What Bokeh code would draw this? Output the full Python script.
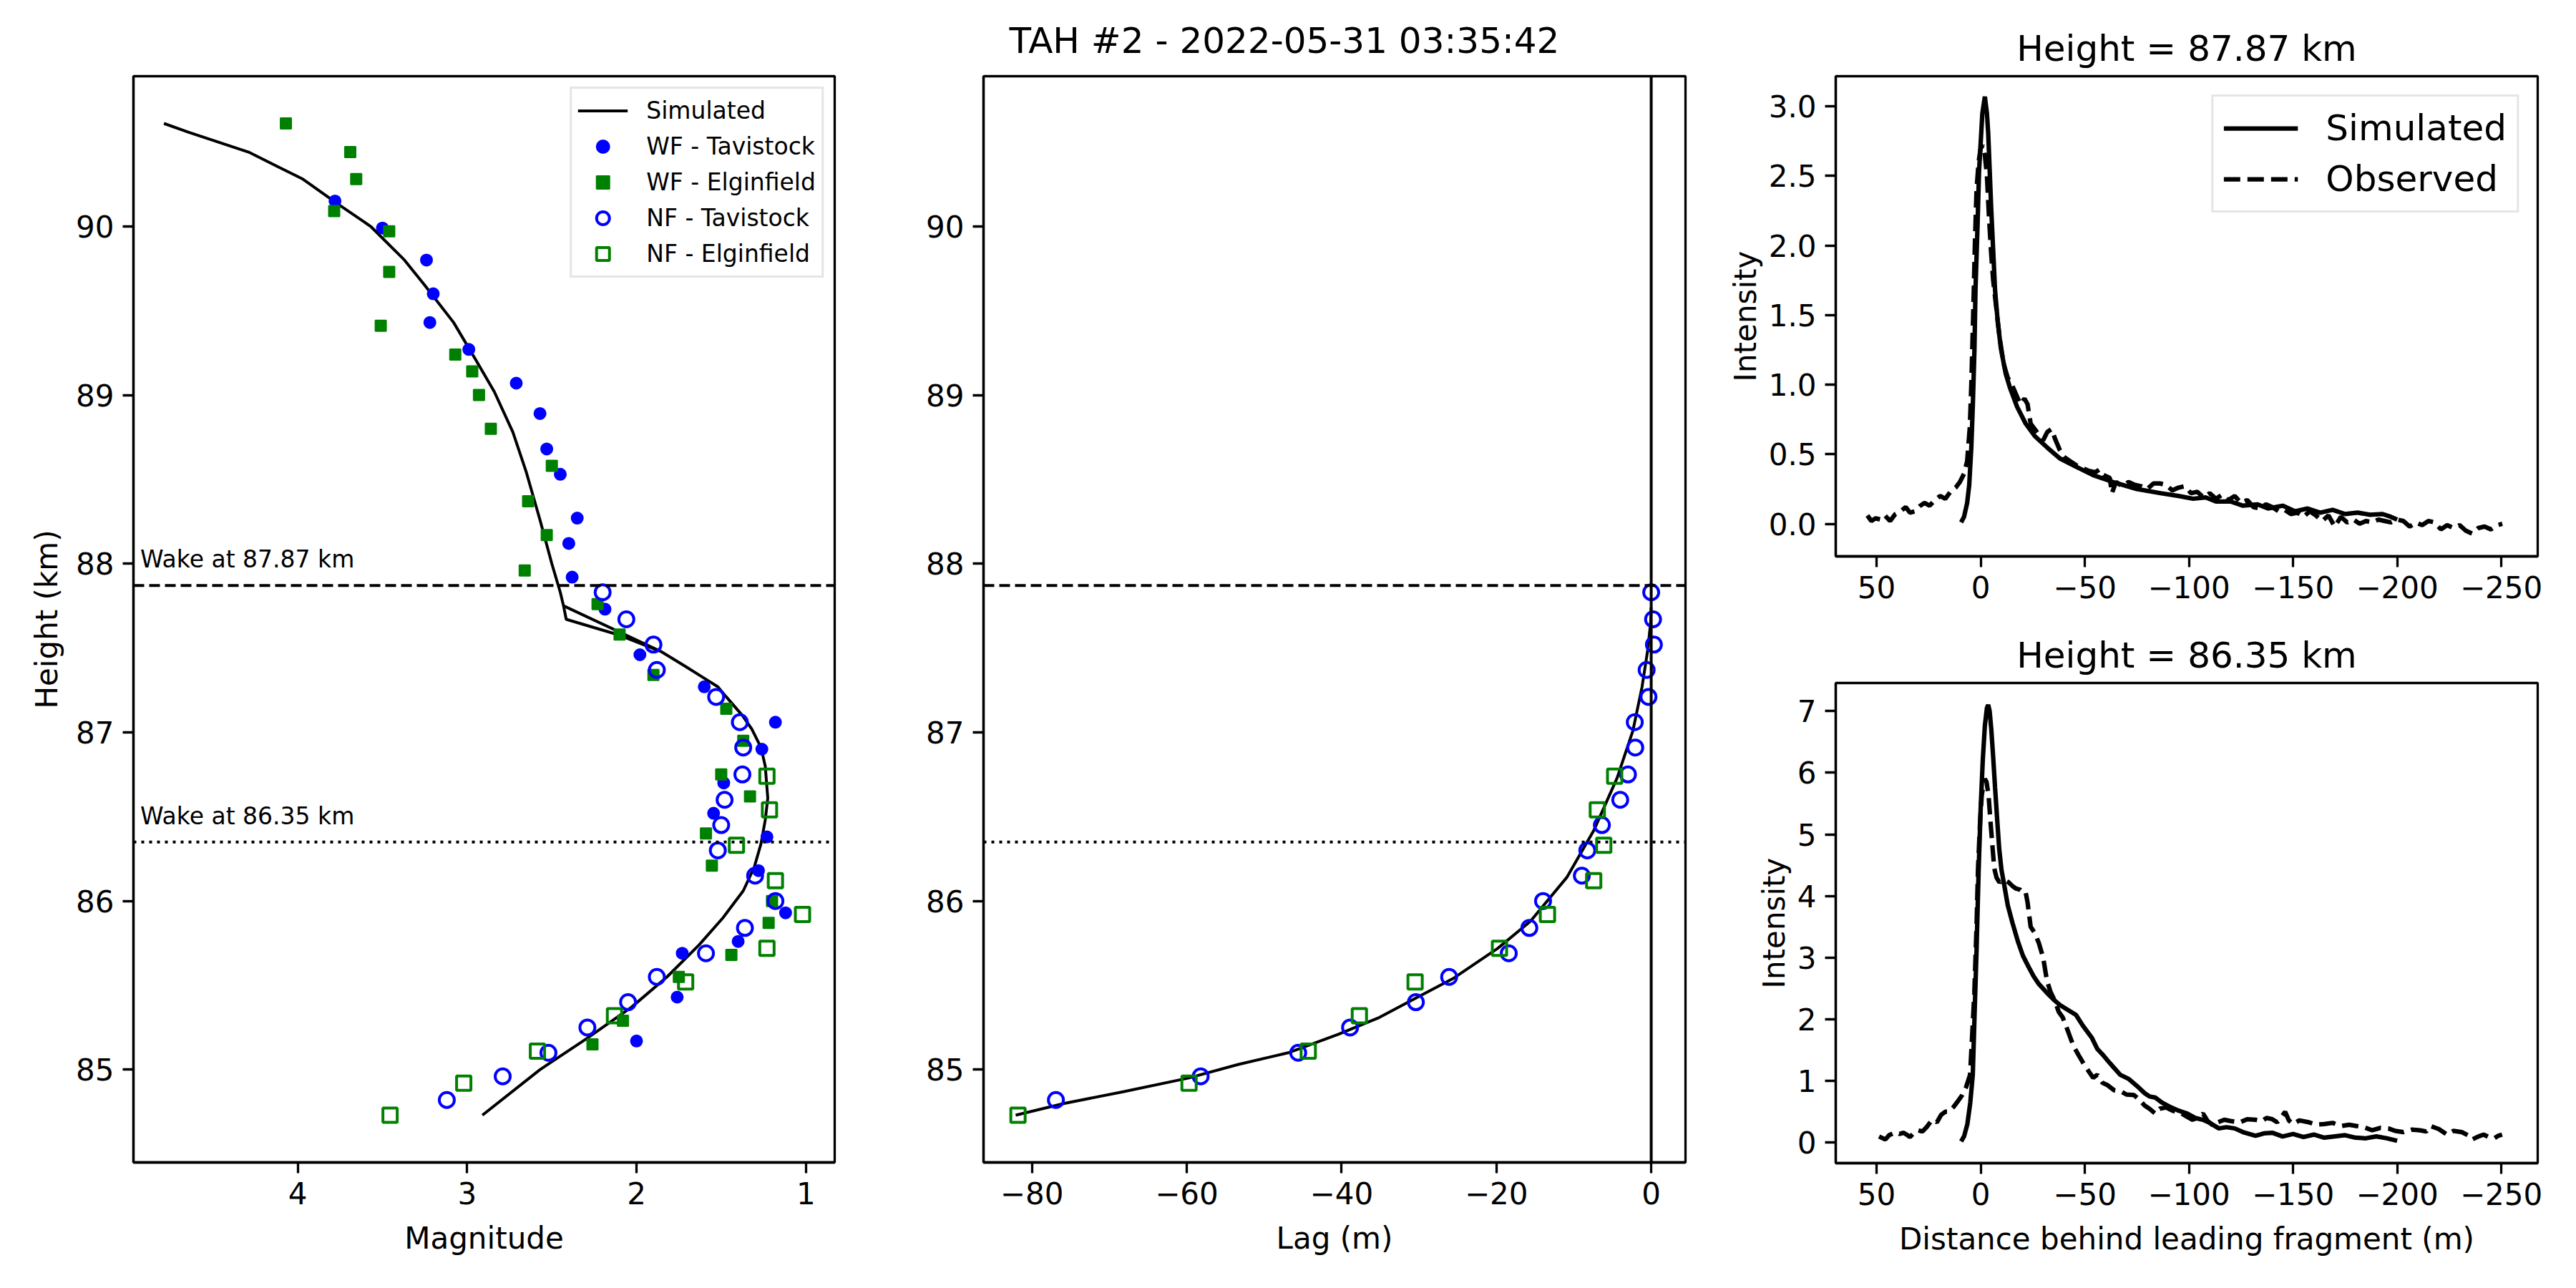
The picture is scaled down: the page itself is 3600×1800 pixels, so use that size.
from bokeh.plotting import figure
from bokeh.models import Range1d, Span, Label, Legend, LegendItem, FixedTicker
from bokeh.layouts import row, column
from bokeh.embed import file_html
from bokeh.resources import INLINE

FONT = "DejaVu Sans"

# ---------------- Left panel: Magnitude vs Height ----------------
sim_mag = [4.79, 4.65, 4.29, 4.13, 3.97, 3.76, 3.57, 3.37, 3.25, 3.08, 2.95, 2.84, 2.73, 2.65,
           2.57, 2.50, 2.45, 2.431, 2.415, 2.113, 1.857, 2.431, 1.857, 1.71, 1.615, 1.52, 1.47,
           1.375, 1.32, 1.265, 1.24, 1.225, 1.24, 1.265, 1.305, 1.37, 1.49, 1.63, 1.82, 2.03,
           2.30, 2.57, 2.91]
sim_h = [90.61, 90.56, 90.44, 90.36, 90.28, 90.13, 90.00, 89.80, 89.65, 89.43, 89.21, 89.02,
         88.78, 88.54, 88.26, 88.00, 87.83, 87.75, 87.67, 87.58, 87.48, 87.75, 87.48, 87.39,
         87.33, 87.27, 87.21, 87.10, 87.02, 86.91, 86.80, 86.61, 86.48, 86.34, 86.20, 86.06,
         85.90, 85.74, 85.55, 85.37, 85.18, 85.00, 84.73]

wf_tav_mag = [3.78, 3.50, 3.24, 3.20, 3.22, 2.99, 2.71, 2.57, 2.53, 2.45, 2.35, 2.40, 2.38,
              2.186, 1.98, 1.60, 1.18, 1.26, 1.485, 1.545, 1.23, 1.28, 1.12, 1.40, 1.73, 1.76, 2.00]
wf_tav_h = [90.15, 89.99, 89.80, 89.60, 89.43, 89.27, 89.07, 88.89, 88.68, 88.53, 88.27, 88.12,
            87.92, 87.73, 87.46, 87.27, 87.06, 86.90, 86.70, 86.52, 86.38, 86.18, 85.93, 85.76,
            85.69, 85.43, 85.17]

wf_elg_mag = [4.07, 3.69, 3.655, 3.785, 3.46, 3.46, 3.51, 3.07, 2.97, 2.93, 2.86, 2.50, 2.64,
              2.53, 2.66, 2.23, 2.10, 1.90, 1.47, 1.37, 1.50, 1.33, 1.59, 1.555, 1.20, 1.22,
              1.44, 1.75, 2.08, 2.26]
wf_elg_h = [90.61, 90.44, 90.28, 90.09, 89.97, 89.73, 89.41, 89.24, 89.14, 89.00, 88.80, 88.58,
            88.37, 88.17, 87.96, 87.76, 87.58, 87.34, 87.14, 86.95, 86.75, 86.62, 86.40, 86.21,
            86.00, 85.87, 85.68, 85.55, 85.29, 85.15]

nf_tav_h = [87.83, 87.67, 87.52, 87.37, 87.21, 87.06, 86.91, 86.75, 86.60, 86.45, 86.30, 86.15,
            86.00, 85.84, 85.69, 85.55, 85.40, 85.25, 85.10, 84.96, 84.82]
nf_tav_mag = [2.20, 2.06, 1.90, 1.88, 1.53, 1.39, 1.37, 1.375, 1.48, 1.50, 1.52, 1.30, 1.18,
              1.36, 1.59, 1.88, 2.05, 2.29, 2.52, 2.79, 3.12]
nf_tav_lag = [0.0, 0.24, 0.35, -0.59, -0.35, -2.12, -2.06, -3.0, -4.0, -6.37, -8.25, -8.96,
              -13.97, -15.74, -18.4, -26.1, -30.4, -38.9, -45.6, -58.2, -76.9]

nf_elg_h = [86.74, 86.54, 86.33, 86.12, 85.92, 85.72, 85.52, 85.32, 85.11, 84.92, 84.73]
nf_elg_mag = [1.23, 1.215, 1.41, 1.18, 1.02, 1.23, 1.71, 2.13, 2.585, 3.02, 3.455]
nf_elg_lag = [-4.72, -6.96, -6.13, -7.43, -13.4, -19.6, -30.5, -37.7, -44.3, -59.7, -81.8]

# ---------------- Middle panel: simulated lag ----------------
sim_lag = [-82.1, -75.8, -68.1, -59.8, -53.4, -46.9, -40.4, -35.1, -31.0, -25.6, -19.8, -15.6,
           -10.9, -7.4, -4.4, -2.36, -1.18, -0.41, -0.06, -0.02]
sim_lag_h = [84.73, 84.80, 84.87, 84.95, 85.03, 85.10, 85.21, 85.31, 85.41, 85.54, 85.72, 85.88,
             86.14, 86.42, 86.73, 87.01, 87.27, 87.50, 87.66, 87.74]

wake_heights = [87.87, 86.35]
wake_labels = ["Wake at 87.87 km", "Wake at 86.35 km"]

# ---------------- Right panels: wake profiles ----------------
top_sim_d = [9.4, 8.0, 6.5, 5.5, 4.5, 3.8, 3.0, 2.5, 1.5, 0.8, -0.8, -2.0, -3.0, -3.6, -5.1, -6.9,
             -8.2, -9.7, -12, -14, -17.5, -21.6, -26, -31.8, -38, -45.8, -54, -63.6, -75, -86.4,
             -95, -102, -108, -113, -120, -126, -133, -138, -145, -151, -157, -163, -169, -175,
             -181, -187, -193, -197, -200]
top_sim_i = [0.01, 0.05, 0.15, 0.28, 0.55, 0.84, 1.25, 1.68, 2.15, 2.53, 2.95, 3.07, 2.95, 2.81,
             2.25, 1.68, 1.45, 1.26, 1.08, 0.98, 0.84, 0.72, 0.63, 0.55, 0.47, 0.41, 0.35, 0.30,
             0.25, 0.22, 0.20, 0.18, 0.19, 0.16, 0.16, 0.13, 0.14, 0.11, 0.13, 0.09, 0.11, 0.08,
             0.10, 0.07, 0.08, 0.065, 0.07, 0.05, 0.03]

top_obs_d = [54.4, 52.5, 50.5, 48, 46, 43.5, 41, 38.5, 36, 34, 31.5, 29, 27, 24.5, 22, 19.5, 17,
             14.5, 12, 10, 8, 6.5, 5.2, 4.5, 3.6, 2.8, 2, 1, 0, -1, -2, -3, -4, -5, -6, -7.5, -9,
             -11, -13, -15, -17, -19, -21, -22.5, -24, -26, -28, -30, -32, -34, -36, -38, -40,
             -43, -46, -49, -52, -55, -57, -59, -62, -63, -65, -68, -71, -74, -77, -80, -83, -86,
             -89, -92, -95, -98, -101, -104, -107, -110, -113, -116, -119, -122, -125, -128, -131,
             -134, -137, -140, -143, -146, -149, -152, -155, -158, -161, -164, -167, -170, -173,
             -176, -179, -182, -185, -188, -191, -194, -197, -200, -203, -206, -209, -212, -215,
             -218, -221, -224, -227, -230, -233, -236, -239, -242, -245, -248, -250.5]
top_obs_i = [0.06, 0.02, 0.04, 0.03, 0.06, 0.02, 0.07, 0.09, 0.12, 0.08, 0.09, 0.13, 0.15, 0.13,
             0.17, 0.20, 0.18, 0.23, 0.26, 0.30, 0.36, 0.45, 0.70, 1.00, 1.50, 2.00, 2.40, 2.60,
             2.70, 2.72, 2.65, 2.50, 2.20, 1.95, 1.75, 1.55, 1.35, 1.15, 1.05, 1.00, 0.93, 0.86,
             0.90, 0.86, 0.72, 0.68, 0.64, 0.60, 0.66, 0.68, 0.60, 0.53, 0.48, 0.45, 0.42, 0.40,
             0.38, 0.37, 0.39, 0.35, 0.33, 0.22, 0.30, 0.27, 0.30, 0.28, 0.27, 0.25, 0.29, 0.29,
             0.28, 0.24, 0.26, 0.27, 0.22, 0.23, 0.19, 0.22, 0.18, 0.21, 0.17, 0.20, 0.15, 0.17,
             0.12, 0.11, 0.14, 0.12, 0.09, 0.10, 0.07, 0.08, 0.05, 0.09, 0.06, 0.02, 0.06, -0.02,
             0.05, 0.01, 0.03, 0.00, 0.02, 0.01, 0.03, 0.02, 0.01, 0.03, 0.02, -0.02, 0.01, -0.01,
             0.02, 0.01, -0.04, -0.01, -0.03, -0.01, -0.05, -0.07, -0.03, -0.02, -0.04, -0.01, 0.00]

bot_sim_d = [9.4, 8, 6.4, 5, 3.8, 3.0, 2.0, 1, 0, -1, -2, -3, -3.6, -4.3, -5.1, -6, -6.9, -8, -8.9,
             -10, -11.4, -13, -15.3, -18, -20.3, -23, -25.4, -28, -31.8, -35, -38.1, -42, -45.8,
             -49, -53.4, -56, -58.5, -61, -63.6, -67, -71.2, -75, -78.8, -81, -83.9, -87, -91.5,
             -95, -99.2, -103, -106.8, -110, -114.4, -118, -122, -126, -132, -136, -140, -145,
             -150, -155, -160, -165, -170, -175, -180, -185, -190, -195, -200]
bot_sim_i = [0.02, 0.10, 0.30, 0.65, 1.10, 2.0, 3.10, 4.4, 5.43, 6.2, 6.76, 7.05, 7.10, 7.0, 6.70,
             6.25, 5.76, 5.2, 4.76, 4.42, 4.16, 3.85, 3.56, 3.25, 3.03, 2.85, 2.70, 2.57, 2.43,
             2.32, 2.23, 2.15, 2.07, 1.90, 1.70, 1.52, 1.43, 1.33, 1.23, 1.10, 1.03, 0.92, 0.80,
             0.75, 0.73, 0.65, 0.57, 0.52, 0.47, 0.40, 0.37, 0.32, 0.23, 0.25, 0.23, 0.17, 0.11,
             0.15, 0.16, 0.10, 0.14, 0.09, 0.13, 0.08, 0.10, 0.12, 0.08, 0.07, 0.10, 0.07, 0.03]

bot_obs_d = [48.8, 47, 45.8, 44, 42, 40.7, 39, 37, 35.6, 34, 32, 30, 28, 26, 24, 22.9, 21, 19, 17,
             15.3, 13, 11, 8.9, 7, 5.1, 4.0, 3.05, 2, 1.3, 0.3, -0.5, -1.3, -2, -2.8, -3.8, -4.6,
             -5.6, -6.5, -7.6, -9, -10.2, -12, -13.5, -15.3, -17, -19, -20.5, -21.6, -22.5, -24,
             -26, -28, -30, -31.8, -33.5, -35.6, -37.5, -39.4, -42, -44.5, -47, -49.6, -52, -54,
             -56, -58.5, -61, -64, -67.4, -70, -73.7, -76, -78.8, -81, -83.9, -86, -89, -92,
             -96.6, -99, -101.7, -104, -106.8, -109, -111.9, -114, -117, -120, -124.6, -128, -132,
             -135, -137.3, -140, -142.4, -144.5, -146.2, -148, -150, -153, -157.6, -161, -165,
             -169, -173, -177, -180.5, -184, -188, -192, -195.8, -199, -203, -207, -211, -214,
             -216, -220, -224, -227, -231, -234, -236, -239, -241.5, -244, -246.6, -248.5, -250.4]
bot_obs_i = [0.10, 0.07, 0.05, 0.12, 0.15, 0.17, 0.14, 0.16, 0.13, 0.09, 0.16, 0.20, 0.18, 0.25,
             0.34, 0.37, 0.33, 0.45, 0.50, 0.50, 0.58, 0.67, 0.77, 0.90, 1.10, 1.80, 2.43, 3.5,
             4.43, 5.2, 5.63, 5.80, 5.90, 5.85, 5.63, 5.25, 4.83, 4.45, 4.30, 4.22, 4.26, 4.25,
             4.22, 4.16, 4.12, 4.10, 4.05, 4.06, 3.90, 3.50, 3.40, 3.23, 3.00, 2.63, 2.45, 2.30,
             2.12, 2.03, 1.80, 1.57, 1.42, 1.27, 1.15, 1.05, 1.10, 0.97, 0.93, 0.85, 0.83, 0.78,
             0.77, 0.70, 0.60, 0.55, 0.47, 0.55, 0.57, 0.52, 0.47, 0.42, 0.37, 0.40, 0.47, 0.35,
             0.27, 0.33, 0.37, 0.35, 0.33, 0.38, 0.37, 0.35, 0.40, 0.38, 0.33, 0.42, 0.50, 0.36,
             0.30, 0.36, 0.33, 0.29, 0.30, 0.32, 0.27, 0.29, 0.27, 0.25, 0.20, 0.24, 0.23, 0.19,
             0.17, 0.21, 0.20, 0.18, 0.27, 0.22, 0.13, 0.19, 0.17, 0.12, 0.05, 0.10, 0.13, 0.09,
             0.07, 0.11, 0.13]

# ---------------- ticks ----------------
mag_ticks = [4, 3, 2, 1]
mag_tick_labels = ["4", "3", "2", "1"]
h_ticks = [85, 86, 87, 88, 89, 90]
h_tick_labels = ["85", "86", "87", "88", "89", "90"]
lag_ticks = [-80, -60, -40, -20, 0]
lag_tick_labels = ["\u221280", "\u221260", "\u221240", "\u221220", "0"]
dist_ticks = [50, 0, -50, -100, -150, -200, -250]
dist_tick_labels = ["50", "0", "\u221250", "\u2212100", "\u2212150", "\u2212200", "\u2212250"]
top_i_ticks = [0.0, 0.5, 1.0, 1.5, 2.0, 2.5, 3.0]
top_i_tick_labels = ["0.0", "0.5", "1.0", "1.5", "2.0", "2.5", "3.0"]
bot_i_ticks = [0, 1, 2, 3, 4, 5, 6, 7]
bot_i_tick_labels = ["0", "1", "2", "3", "4", "5", "6", "7"]

BLUE = "#0000ff"
GREEN = "#008000"
SPINE = 3.3
TICKFS = "42px"


def make_fig(xr, yr, fw, fh, bl, br, bt, bb):
    p = figure(x_range=xr, y_range=yr, frame_width=fw, frame_height=fh,
               min_border_left=bl, min_border_right=br, min_border_top=bt, min_border_bottom=bb,
               output_backend="svg", toolbar_location=None, tools="")
    p.grid.visible = False
    p.outline_line_color = "black"
    p.outline_line_width = SPINE
    p.outline_line_alpha = 1.0
    p.background_fill_color = "white"
    p.border_fill_color = "white"
    p.title.text_color = "black"
    for ax in list(p.xaxis) + list(p.yaxis):
        ax.axis_line_color = "black"
        ax.axis_line_width = SPINE
        ax.major_tick_line_color = "black"
        ax.major_tick_line_width = SPINE
        ax.major_tick_out = 15
        ax.major_tick_in = 0
        ax.minor_tick_line_color = None
        ax.major_label_text_font = FONT
        ax.major_label_text_font_size = TICKFS
        ax.major_label_text_color = "black"
        ax.major_label_standoff = 12
        ax.axis_label_text_font = FONT
        ax.axis_label_text_font_size = TICKFS
        ax.axis_label_text_font_style = "normal"
        ax.axis_label_text_color = "black"
    return p


def set_ticks(axis, ticks, labels):
    axis.ticker = FixedTicker(ticks=ticks, minor_ticks=[])
    axis.major_label_overrides = {t: s for t, s in zip(ticks, labels)}


def style_legend(leg, fs, gw, gh, sp, pad, margin, standoff):
    leg.label_text_font = FONT
    leg.label_text_font_size = fs
    leg.label_text_color = "black"
    leg.glyph_width = gw
    leg.glyph_height = gh
    leg.label_height = gh
    leg.spacing = sp
    leg.padding = pad
    leg.margin = margin
    leg.label_standoff = standoff
    leg.border_line_color = "#cccccc"
    leg.border_line_width = 3
    leg.background_fill_alpha = 0.8


h_range = Range1d(84.45, 90.89)

# ---------- Left figure ----------
pL = make_fig(Range1d(4.97, 0.83), h_range, 980, 1518, 186, 104, 106, 176)
set_ticks(pL.xaxis[0], mag_ticks, mag_tick_labels)
set_ticks(pL.yaxis[0], h_ticks, h_tick_labels)
pL.xaxis.axis_label = "Magnitude"
pL.yaxis.axis_label = "Height (km)"
pL.xaxis.axis_label_standoff = 20
pL.yaxis.axis_label_standoff = 13

r_sim = pL.line(sim_mag, sim_h, line_color="black", line_width=4)
r_wft = pL.scatter(wf_tav_mag, wf_tav_h, marker="circle", size=16, fill_color=BLUE,
                   line_color=BLUE, line_width=2)
r_wfe = pL.scatter(wf_elg_mag, wf_elg_h, marker="square", size=15, fill_color=GREEN,
                   line_color=GREEN, line_width=2)
r_nft = pL.scatter(nf_tav_mag, nf_tav_h, marker="circle", size=21, fill_color=None,
                   line_color=BLUE, line_width=4)
r_nfe = pL.scatter(nf_elg_mag, nf_elg_h, marker="square", size=20, fill_color=None,
                   line_color=GREEN, line_width=4)

dashes = ["15 7", "4 7"]
for hgt, lab, dash in zip(wake_heights, wake_labels, dashes):
    pL.add_layout(Span(location=hgt, dimension="width", line_color="black",
                       line_width=4, line_dash=dash))
    pL.add_layout(Label(x=4.93, y=hgt + 0.155, text=lab, text_font=FONT,
                        text_font_size="33px", text_baseline="alphabetic",
                        text_align="left", text_color="black"))

legL = Legend(items=[LegendItem(label="Simulated", renderers=[r_sim]),
                     LegendItem(label="WF - Tavistock", renderers=[r_wft]),
                     LegendItem(label="WF - Elginfield", renderers=[r_wfe]),
                     LegendItem(label="NF - Tavistock", renderers=[r_nft]),
                     LegendItem(label="NF - Elginfield", renderers=[r_nfe])],
              location="top_right")
style_legend(legL, "33px", 70, 45, 5, 8, 15, 26)
pL.add_layout(legL)

# ---------- Middle figure ----------
pM = make_fig(Range1d(-86.25, 4.43), h_range, 981, 1518, 104, 10, 106, 176)
set_ticks(pM.xaxis[0], lag_ticks, lag_tick_labels)
set_ticks(pM.yaxis[0], h_ticks, h_tick_labels)
pM.xaxis.axis_label = "Lag (m)"
pM.xaxis.axis_label_standoff = 20
pM.title.text = "TAH #2 - 2022-05-31 03:35:42"
pM.title.align = "left"
pM.title.offset = 36
pM.title.text_font = FONT
pM.title.text_font_size = "50px"
pM.title.text_font_style = "normal"
pM.title.standoff = 42

pM.add_layout(Span(location=0, dimension="height", line_color="black", line_width=4))
for hgt, dash in zip(wake_heights, dashes):
    pM.add_layout(Span(location=hgt, dimension="width", line_color="black",
                       line_width=4, line_dash=dash))
pM.line(sim_lag, sim_lag_h, line_color="black", line_width=4)
pM.scatter(nf_tav_lag, nf_tav_h, marker="circle", size=21, fill_color=None,
           line_color=BLUE, line_width=4)
pM.scatter(nf_elg_lag, nf_elg_h, marker="square", size=20, fill_color=None,
           line_color=GREEN, line_width=4)


# ---------- Right figures ----------
def right_fig(yr, bt, bb, title, yt, ytl):
    p = make_fig(Range1d(69.6, -267.5), yr, 981, 671, 200, 54, bt, bb)
    set_ticks(p.xaxis[0], dist_ticks, dist_tick_labels)
    set_ticks(p.yaxis[0], yt, ytl)
    p.yaxis.axis_label = "Intensity"
    p.yaxis.axis_label_standoff = 5
    p.title.text = title
    p.title.align = "center"
    p.title.text_font = FONT
    p.title.text_font_size = "50px"
    p.title.text_font_style = "normal"
    p.title.standoff = 20
    return p


pT = right_fig(Range1d(-0.234, 3.217), 106, 95, "Height = 87.87 km", top_i_ticks, top_i_tick_labels)
rT_sim = pT.line(top_sim_d, top_sim_i, line_color="black", line_width=6.25)
rT_obs = pT.line(top_obs_d, top_obs_i, line_color="black", line_width=6.25, line_dash="23 10")
legR = Legend(items=[LegendItem(label="Simulated", renderers=[rT_sim]),
                     LegendItem(label="Observed", renderers=[rT_obs])],
              location="top_right")
style_legend(legR, "50px", 104, 60, 11, 14, 26, 39)
pT.add_layout(legR)

pB = right_fig(Range1d(-0.333, 7.455), 82, 175, "Height = 86.35 km", bot_i_ticks, bot_i_tick_labels)
pB.xaxis.axis_label = "Distance behind leading fragment (m)"
pB.xaxis.axis_label_standoff = 20
pB.line(bot_sim_d, bot_sim_i, line_color="black", line_width=6.25)
pB.line(bot_obs_d, bot_obs_i, line_color="black", line_width=6.25, line_dash="23 10")

layout = row(pL, pM, column(pT, pB))

open("out.html", "w").write(file_html(layout, INLINE))
